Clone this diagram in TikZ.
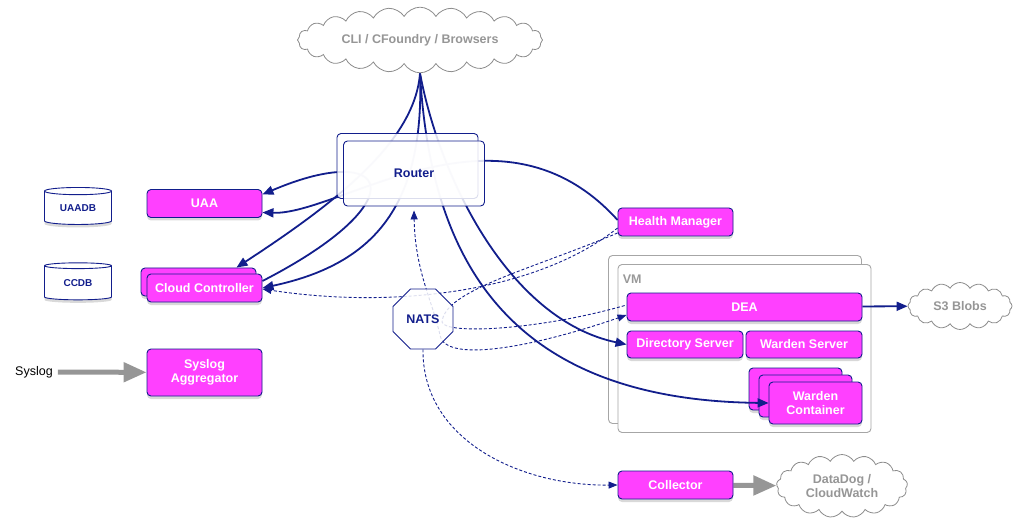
\documentclass[tikz,border=0pt]{standalone}
\usepackage{fontspec}
\setmainfont{Liberation Sans}
\usetikzlibrary{arrows.meta,shapes.geometric,shapes.symbols,shadows,backgrounds,calc}

\definecolor{navy}{RGB}{18,30,140}
\definecolor{pinkbox}{RGB}{255,64,255}
\definecolor{softgray}{RGB}{150,150,150}

\begin{document}
\begin{tikzpicture}[x=1pt,y=-1pt]
    \tikzstyle{box}=[rectangle,rounded corners=4pt,draw=navy,line width=0.9pt,fill=pinkbox,text=white,
        font=\fontsize{12.5}{14.5}\selectfont\bfseries,minimum width=115pt,minimum height=28pt,
        inner sep=0pt,align=center,drop shadow={shadow xshift=0pt,shadow yshift=-3pt,opacity=0.3}]
    \tikzstyle{db}=[cylinder,shape border rotate=90,aspect=0.2,draw=navy,line width=0.9pt,fill=white,
        text=navy,font=\fontsize{10}{12}\selectfont\bfseries,minimum width=67pt,minimum height=37pt,
        inner sep=0pt,drop shadow={shadow xshift=0pt,shadow yshift=-3pt,opacity=0.3}]
    \tikzstyle{puff}=[cloud,cloud puffs=24,cloud puff arc=120,draw=black!45,line width=0.8pt,fill=white,
        text=softgray,font=\fontsize{12.5}{14.5}\selectfont\bfseries,inner sep=0pt,align=center]
    \tikzstyle{glass}=[rectangle,rounded corners=4pt,draw=navy,line width=0.9pt,fill=white,
        fill opacity=0.85,text opacity=1,text=navy,font=\fontsize{12.5}{14.5}\selectfont\bfseries,
        minimum width=141pt,minimum height=65pt]
    \tikzstyle{vmbox}=[rectangle,rounded corners=4pt,draw=black!35,line width=0.9pt,fill=white,
        minimum width=253pt,minimum height=168pt]
    \tikzstyle{link}=[draw=navy,line width=1.8pt,-{Triangle[length=11pt,width=9pt]}]
    \tikzstyle{bus}=[draw=navy,line width=0.9pt,dash pattern=on 3pt off 2pt,
        -{Triangle[length=9pt,width=7pt]}]
    \tikzstyle{feed}=[draw=softgray,line width=5pt,-{Triangle[length=23pt,width=19pt]}]

    \useasboundingbox (0,0) rectangle (1022,529);

    % Clients and outside stores
    \node[puff,minimum width=245pt,minimum height=55pt,aspect=4.5] (cli) at (420,40) {CLI / CFoundry / Browsers};
    \node[puff,minimum width=104pt,minimum height=47pt,aspect=2.2,cloud puffs=16] (s3) at (960,306) {S3 Blobs};
    \node[puff,minimum width=131pt,minimum height=63pt,aspect=2,cloud puffs=17] (dd) at (842,486) {DataDog /\\CloudWatch};

    % Databases
    \node[db] (uaadb) at (78,208) {UAADB};
    \node[db] (ccdb) at (78,283) {CCDB};

    % Components on the left
    \node[box] (uaa) at (204.5,203.5) {UAA};
    \node[box] (cc-back) at (198.5,282) {};
    \node[box] (cc) at (204.5,288) {Cloud Controller};
    \node[box,minimum height=47pt] (sa) at (204.5,372.5) {Syslog\\Aggregator};
    \node[inner sep=5pt,font=\fontsize{12.5}{14.5}\selectfont] (syslog-in) at (34,372) {Syslog};

    % Components on the right
    \node[box] (hm) at (675.5,222) {Health Manager};
    \node[box] (coll) at (675.5,485) {Collector};
    \node[box,minimum width=235pt] (dea) at (744.5,307) {DEA};
    \node[box,minimum width=116pt,minimum height=27pt] (ds) at (685,344.5) {Directory Server};
    \node[box,minimum width=116pt,minimum height=27pt] (ws) at (804,344.5) {Warden Server};
    \node[box,minimum width=93pt,minimum height=42pt] (wc) at (815.5,403) {Warden\\Container};

    % Router and message bus
    \node[glass] (router-back) at (407.5,166) {};
    \node[glass] (router) at (414,173.5) {Router};
    \node[regular polygon,regular polygon sides=8,minimum size=65pt,inner sep=0pt,draw=navy,
        line width=0.9pt,fill=white,fill opacity=0.85,text opacity=1,text=navy,
        font=\fontsize{12.5}{14.5}\selectfont\bfseries] (nats) at (423,319) {NATS};

    \begin{scope}[on background layer]
        % The VM and the containers behind
        \node[vmbox] (vm-back) at (735,339.5) {};
        \node[vmbox] (vm) at (744.5,348.5) {};
        \node[anchor=base west,inner sep=0pt,text=black!40,font=\fontsize{12.5}{14.5}\selectfont\bfseries]
            (vm-label) at ($(vm.north west)+(5,19)$) {VM};
        \foreach \i in {2,1}
            \node[box,minimum width=93pt,minimum height=42pt] (wc-\i) at (815.5-10*\i,403-7*\i) {};

        % NATS messages
        \draw[bus] ([yshift=-6pt]hm.west) .. controls (540,290) and (400,310) .. ([yshift=-1pt]cc.east);
        \draw[bus,-] ([yshift=-11pt]hm.west) .. controls (530,270) and (445,290) .. (442,322)
            .. controls (445,335) and (540,330) .. ([yshift=2pt]dea.west);
        \draw[bus,{Triangle[length=9pt,width=7pt]}-{Triangle[length=9pt,width=7pt]}]
            ([yshift=-4pt]router.south) .. controls (415,270) and (432,300) .. (440,335)
            .. controls (445,365) and (540,345) .. ([yshift=-8pt]dea.west);
        \draw[bus] (nats.south) .. controls (422,440) and (520,486) .. (coll.west);

        % Requests through the router
        \draw[link] (cli.south) .. controls (415,140) and (340,200) .. ([xshift=-20pt]cc-back.north east);
        \draw[link] (cli.south) .. controls (425,210) and (370,265) .. (cc.east);
        \draw[link] (cli.south) .. controls (440,180) and (510,320) .. (ds.west);
        \draw[link] (cli.south) .. controls (430,250) and (500,400) .. (wc.west);
        \draw[link] ([yshift=7pt]cc.east) .. controls (420,200) and (390,140) .. ([yshift=9pt]uaa.east);
        \draw[link] ([yshift=2pt]hm.west) .. controls (500,90) and (340,215) .. ([yshift=-9pt]uaa.east);
        \draw[link] (dea) -- (s3);

        % Logs and metrics
        \draw[feed] (syslog-in) -- (sa);
        \draw[feed] (coll) -- (dd);
    \end{scope}
\end{tikzpicture}
\end{document}
